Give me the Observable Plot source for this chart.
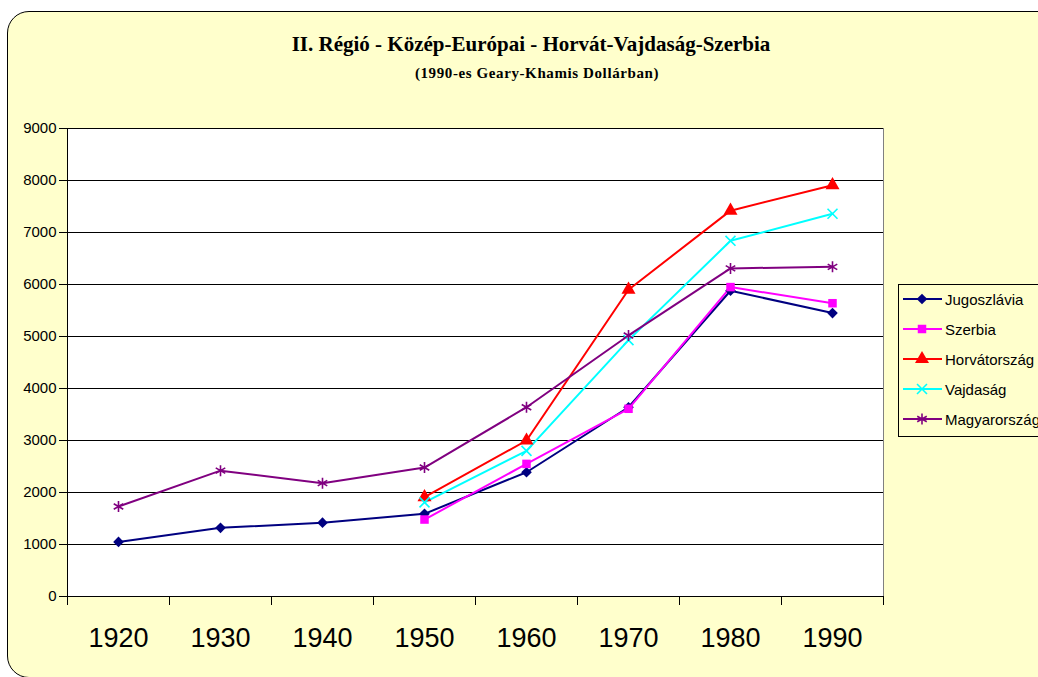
<!DOCTYPE html>
<html>
<head>
<meta charset="utf-8">
<script src="https://cdn.jsdelivr.net/npm/d3@7"></script>
<script src="https://cdn.jsdelivr.net/npm/@observablehq/plot@0.6"></script>
<style>
  html, body { margin: 0; padding: 0; background: #ffffff; }
  body { position: relative; width: 1038px; height: 677px; overflow: hidden; font-family: "Liberation Sans", Arial, sans-serif; }
  #frame { position: absolute; left: 7px; top: 11px; width: 1100px; height: 667px; background: #FFFFCC; border: 1.5px solid #000; border-radius: 22px; box-sizing: border-box; }
  #title { position: absolute; left: 0; width: 1062px; top: 32px; text-align: center; font-family: "Liberation Serif", "Times New Roman", serif; font-weight: bold; font-size: 21px; color: #000; white-space: nowrap; }
  #subtitle { position: absolute; left: 6px; width: 1062px; top: 65px; text-align: center; font-family: "Liberation Serif", "Times New Roman", serif; font-weight: bold; font-size: 15px; letter-spacing: 0.6px; color: #000; white-space: nowrap; }
  #chart { position: absolute; left: 0; top: 0; }
  #legend { position: absolute; left: 898px; top: 284px; }
</style>
</head>
<body>
<div id="frame"></div>
<div id="title">II. Régió - Közép-Európai - Horvát-Vajdaság-Szerbia</div>
<div id="subtitle">(1990-es Geary-Khamis Dollárban)</div>
<div id="chart"></div>
<svg id="legend" width="150" height="170"></svg>
<script>
// ---- data ----
const years = [1920, 1930, 1940, 1950, 1960, 1970, 1980, 1990];
const seriesNames = ["Jugoszlávia", "Szerbia", "Horvátország", "Vajdaság", "Magyarország"];
const jugoszlavia = [1050, 1320, 1420, 1590, 2390, 3640, 5880, 5450];
const szerbia     = [null, null, null, 1480, 2550, 3610, 5950, 5640];
const horvatorszag= [null, null, null, 1910, 3000, 5900, 7420, 7910];
const vajdasag    = [null, null, null, 1810, 2800, 4930, 6840, 7360];
const magyarorszag= [1730, 2420, 2180, 2480, 3640, 5020, 6310, 6340];
const yTicks = [0, 1000, 2000, 3000, 4000, 5000, 6000, 7000, 8000, 9000];

// ---- styles ----
const colors = ["#000080", "#FF00FF", "#FF0000", "#00FFFF", "#800080"];
const symbols = ["diamond2", "square", "triangle", "times", "asterisk"];
const d3symbols = [d3.symbolDiamond2, d3.symbolSquare, d3.symbolTriangle, d3.symbolTimes, d3.symbolAsterisk];
const radii = [4.8, 4.8, 5.2, 4.6, 5.2];
const filled = [true, true, true, false, false];

const valueLists = [jugoszlavia, szerbia, horvatorszag, vajdasag, magyarorszag];
const rows = [];
valueLists.forEach((vals, si) => {
  vals.forEach((v, i) => { if (v != null) rows.push({series: seriesNames[si], si, year: years[i], value: v}); });
});

// category boundaries (Excel-style ticks between categories)
const boundaries = years.map(y => y - 5).concat([years[years.length - 1] + 5]);

const marks = [
  Plot.frame({fill: "white", stroke: "#808080"}),
  Plot.gridY(yTicks, {stroke: "#000", strokeOpacity: 1}),
  Plot.axisY(yTicks, {tickSize: 8, tickPadding: 3, fontSize: 15, label: null, stroke: "#000", tickFormat: d => String(d)}),
  Plot.axisX(boundaries, {tickSize: 9, tickFormat: () => "", label: null, stroke: "#000"}),
  Plot.axisX(years, {tickSize: 0, tickPadding: 31, fontSize: 27, label: null, tickFormat: d => String(d)}),
  Plot.ruleX([boundaries[0]], {stroke: "#000"}),
  Plot.ruleY([0], {stroke: "#000"})
];
seriesNames.forEach((name, si) => {
  const data = rows.filter(d => d.si === si);
  marks.push(Plot.line(data, {x: "year", y: "value", stroke: colors[si], strokeWidth: 2}));
});
seriesNames.forEach((name, si) => {
  const data = rows.filter(d => d.si === si);
  marks.push(Plot.dot(data, filled[si]
    ? {x: "year", y: "value", symbol: () => symbols[si], r: radii[si], fill: colors[si], stroke: "none"}
    : {x: "year", y: "value", symbol: () => symbols[si], r: radii[si], stroke: colors[si], strokeWidth: 1.6, fill: "none"}));
});

const chart = Plot.plot({
  width: 1038,
  height: 677,
  marginLeft: 67,
  marginRight: 155,
  marginTop: 128,
  marginBottom: 81,
  style: {background: "transparent", fontFamily: "'Liberation Sans', Arial, sans-serif", color: "#000"},
  x: {type: "linear", domain: [boundaries[0], boundaries[boundaries.length - 1]]},
  y: {domain: [0, 9000]},
  symbol: {type: "identity"},
  marks
});
document.getElementById("chart").appendChild(chart);

// ---- legend ----
const leg = d3.select("#legend");
leg.append("rect").attr("x", 0.5).attr("y", 0.5).attr("width", 200).attr("height", 152)
  .attr("fill", "#FFFFCC").attr("stroke", "#000");
seriesNames.forEach((name, si) => {
  const cy = 15 + si * 30;
  const g = leg.append("g");
  g.append("line").attr("x1", 5).attr("x2", 44).attr("y1", cy).attr("y2", cy)
    .attr("stroke", colors[si]).attr("stroke-width", 2);
  const size = Math.PI * radii[si] * radii[si];
  g.append("path").attr("d", d3.symbol(d3symbols[si], size)())
    .attr("transform", `translate(24,${cy})`)
    .attr("fill", filled[si] ? colors[si] : "none")
    .attr("stroke", filled[si] ? "none" : colors[si])
    .attr("stroke-width", 1.6);
  g.append("text").attr("x", 47).attr("y", cy + 5.5).text(name)
    .attr("font-family", "'Liberation Sans', Arial, sans-serif").attr("font-size", 15).attr("fill", "#000");
});
</script>
</body>
</html>
